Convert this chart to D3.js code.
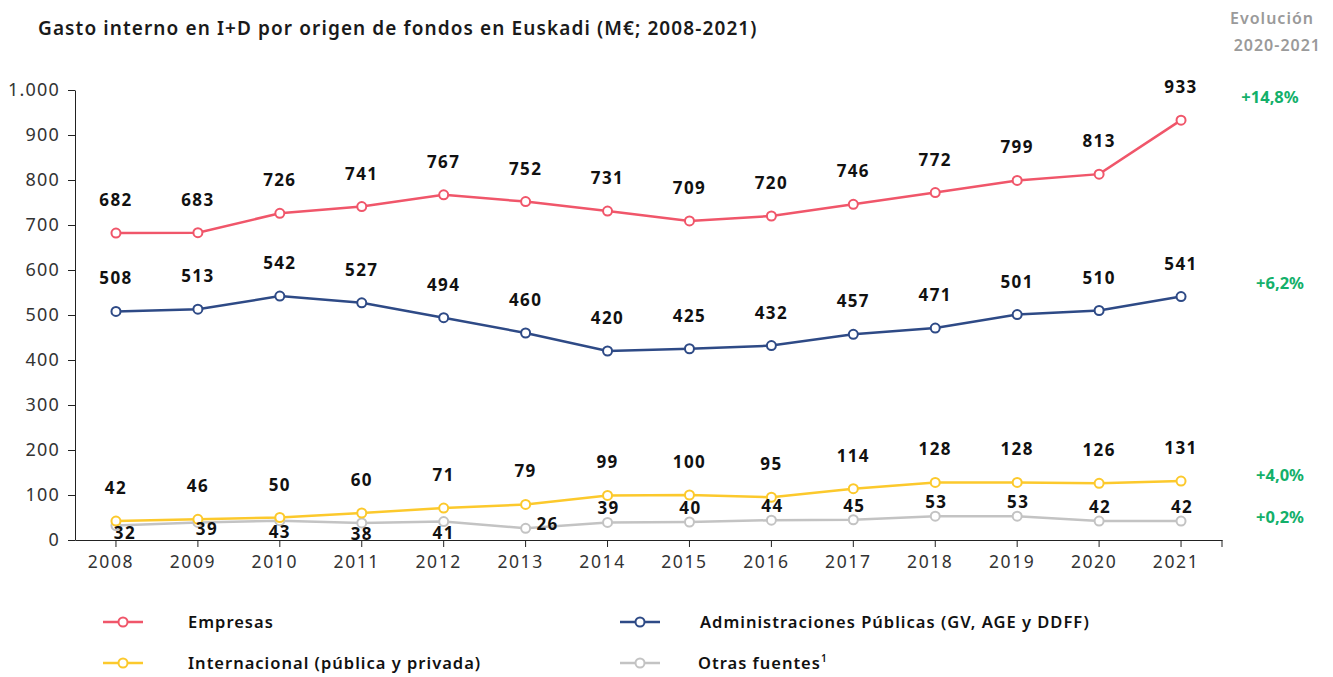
<!DOCTYPE html>
<html>
<head>
<meta charset="utf-8">
<script src="https://cdn.jsdelivr.net/npm/d3@7.9.0/dist/d3.min.js"></script>
<style>
  body { margin: 0; background: #fff; }
  svg { display: block; font-family: "Noto Sans", sans-serif; }
</style>
</head>
<body>
<svg id="chart" width="1333" height="677"></svg>
<script>
// Data (M€)
const years = ['2008', '2009', '2010', '2011', '2012', '2013', '2014', '2015', '2016', '2017', '2018', '2019', '2020', '2021'];
const empresas = [682, 683, 726, 741, 767, 752, 731, 709, 720, 746, 772, 799, 813, 933];
const administraciones = [508, 513, 542, 527, 494, 460, 420, 425, 432, 457, 471, 501, 510, 541];
const internacional = [42, 46, 50, 60, 71, 79, 99, 100, 95, 114, 128, 128, 126, 131];
const otras = [32, 39, 43, 38, 41, 26, 39, 40, 44, 45, 53, 53, 42, 42];
const yTicks = [0, 100, 200, 300, 400, 500, 600, 700, 800, 900, 1000];
const seriesNames = ['Empresas', 'Administraciones Públicas (GV, AGE y DDFF)', 'Internacional (pública y privada)', 'Otras fuentes'];
const evolucion = ['+14,8%', '+6,2%', '+4,0%', '+0,2%'];

// where the grey labels sit relative to their point
const otrasLabelPos = ['below-right', 'below-right', 'below', 'below', 'below', 'right', 'above', 'above', 'above', 'above', 'above', 'above', 'above', 'above'];

const colors = ['#f0566a', '#2e4a86', '#fcc92c', '#c3c3c3'];
const values = [empresas, administraciones, internacional, otras];

const locale = d3.formatLocale({ decimal: ',', thousands: '.', grouping: [3], currency: ['', '€'] });
const fmt = locale.format(',.0f');

const svg = d3.select('#chart');
const margin = { top: 90, right: 111, bottom: 137, left: 75 };
const width = 1333, height = 677;

const x = d3.scaleBand()
    .domain(years)
    .range([margin.left, width - margin.right]);
const cx = (d) => x(d) + x.bandwidth() / 2;

const y = d3.scaleLinear()
    .domain([0, 1000])
    .range([height - margin.bottom, margin.top]);

// Title
svg.append('text')
    .attr('x', 38).attr('y', 35)
    .attr('font-size', 19).attr('font-weight', 600).attr('fill', '#1a1a1a')
    .attr('letter-spacing', 1.1)
    .text('Gasto interno en I+D por origen de fondos en Euskadi (M€; 2008-2021)');

const evo = svg.append('g')
    .attr('font-size', 16).attr('font-weight', 600).attr('fill', '#9a9a9a')
    .attr('letter-spacing', 1)
    .attr('text-anchor', 'end');
evo.append('text').attr('x', 1314).attr('y', 24).text('Evolución');
evo.append('text').attr('x', 1321).attr('y', 51).text('2020-2021');

// Axes
const yAxis = svg.append('g')
    .attr('transform', `translate(${margin.left},0)`)
    .call(d3.axisLeft(y).tickValues(yTicks).tickSize(7).tickSizeOuter(0).tickPadding(8).tickFormat(fmt));
yAxis.selectAll('text').attr('font-size', 18).attr('fill', '#333').attr('letter-spacing', 1.2)
    .attr('font-family', '"Noto Sans", sans-serif');
yAxis.selectAll('line, path').attr('stroke', '#222');

const xAxis = svg.append('g')
    .attr('transform', `translate(0,${y(0)})`)
    .call(d3.axisBottom(x).tickSize(7).tickSizeOuter(0).tickPadding(9));
xAxis.selectAll('text').attr('font-size', 17.5).attr('fill', '#333').attr('dx', -5).attr('letter-spacing', 1.6)
    .attr('font-family', '"Noto Sans", sans-serif');
xAxis.selectAll('line, path').attr('stroke', '#222');
// closing tick at the right end of the axis
xAxis.append('line')
    .attr('x1', x.range()[1]).attr('x2', x.range()[1])
    .attr('y1', 0).attr('y2', 7)
    .attr('stroke', '#222');

// Lines and points
const line = d3.line()
    .x((d, i) => cx(years[i]))
    .y((d) => y(d));

const drawOrder = [3, 2, 1, 0];
drawOrder.forEach((s) => {
    const g = svg.append('g');
    g.append('path')
        .datum(values[s])
        .attr('d', line)
        .attr('fill', 'none')
        .attr('stroke', colors[s])
        .attr('stroke-width', 2.5);
    g.selectAll('circle')
        .data(values[s])
        .join('circle')
        .attr('cx', (d, i) => cx(years[i]))
        .attr('cy', (d) => y(d))
        .attr('r', 4.5)
        .attr('fill', '#fff')
        .attr('stroke', colors[s])
        .attr('stroke-width', 2);
});

// Data labels
const labels = svg.append('g')
    .attr('font-size', 17).attr('font-weight', 700).attr('fill', '#111')
    .attr('letter-spacing', 1.4)
    .attr('text-anchor', 'middle');

[0, 1, 2].forEach((s) => {
    labels.append('g')
        .selectAll('text')
        .data(values[s])
        .join('text')
        .attr('x', (d, i) => cx(years[i]))
        .attr('y', (d) => y(d) - 27)
        .text((d) => fmt(d));
});

const offsets = {
    'below-right': [9, 13],
    'below': [0, 17],
    'right': [22, 2],
    'above': [1, -8],
};
labels.append('g')
    .selectAll('text')
    .data(otras)
    .join('text')
    .attr('x', (d, i) => cx(years[i]) + offsets[otrasLabelPos[i]][0])
    .attr('y', (d, i) => y(d) + offsets[otrasLabelPos[i]][1])
    .text((d) => fmt(d));

// Evolution annotations (green)
const evoDy = [-23, -14, -6, -4];
const evoX = [1270, 1280, 1280, 1280];
svg.append('g')
    .attr('font-size', 16.5).attr('font-weight', 700).attr('fill', '#13b06a')
    .attr('text-anchor', 'middle')
    .selectAll('text')
    .data(evolucion)
    .join('text')
    .attr('x', (d, i) => evoX[i])
    .attr('y', (d, i) => y(values[i][values[i].length - 1]) + evoDy[i] + 6)
    .text((d) => d);

// Legend
const legendPos = [[103, 622], [620, 622], [103, 663], [620, 663]];
const legendTextX = [188, 700, 188, 698];
const legend = svg.append('g');
seriesNames.forEach((name, i) => {
    const [lx, ly] = legendPos[i];
    const item = legend.append('g').attr('transform', `translate(${lx},${ly})`);
    item.append('line')
        .attr('x1', 0).attr('x2', 40)
        .attr('stroke', colors[i]).attr('stroke-width', 2.5);
    item.append('circle')
        .attr('cx', 20).attr('r', 4.5)
        .attr('fill', '#fff').attr('stroke', colors[i]).attr('stroke-width', 2);
    const t = legend.append('text')
        .attr('x', legendTextX[i]).attr('y', ly + 6)
        .attr('font-size', 16.5).attr('font-weight', 600).attr('fill', '#111')
        .attr('letter-spacing', 1)
        .text(name);
    if (i === 3) {
        t.append('tspan').attr('font-size', 10).attr('dy', -7).text('1');
    }
});
</script>
</body>
</html>
